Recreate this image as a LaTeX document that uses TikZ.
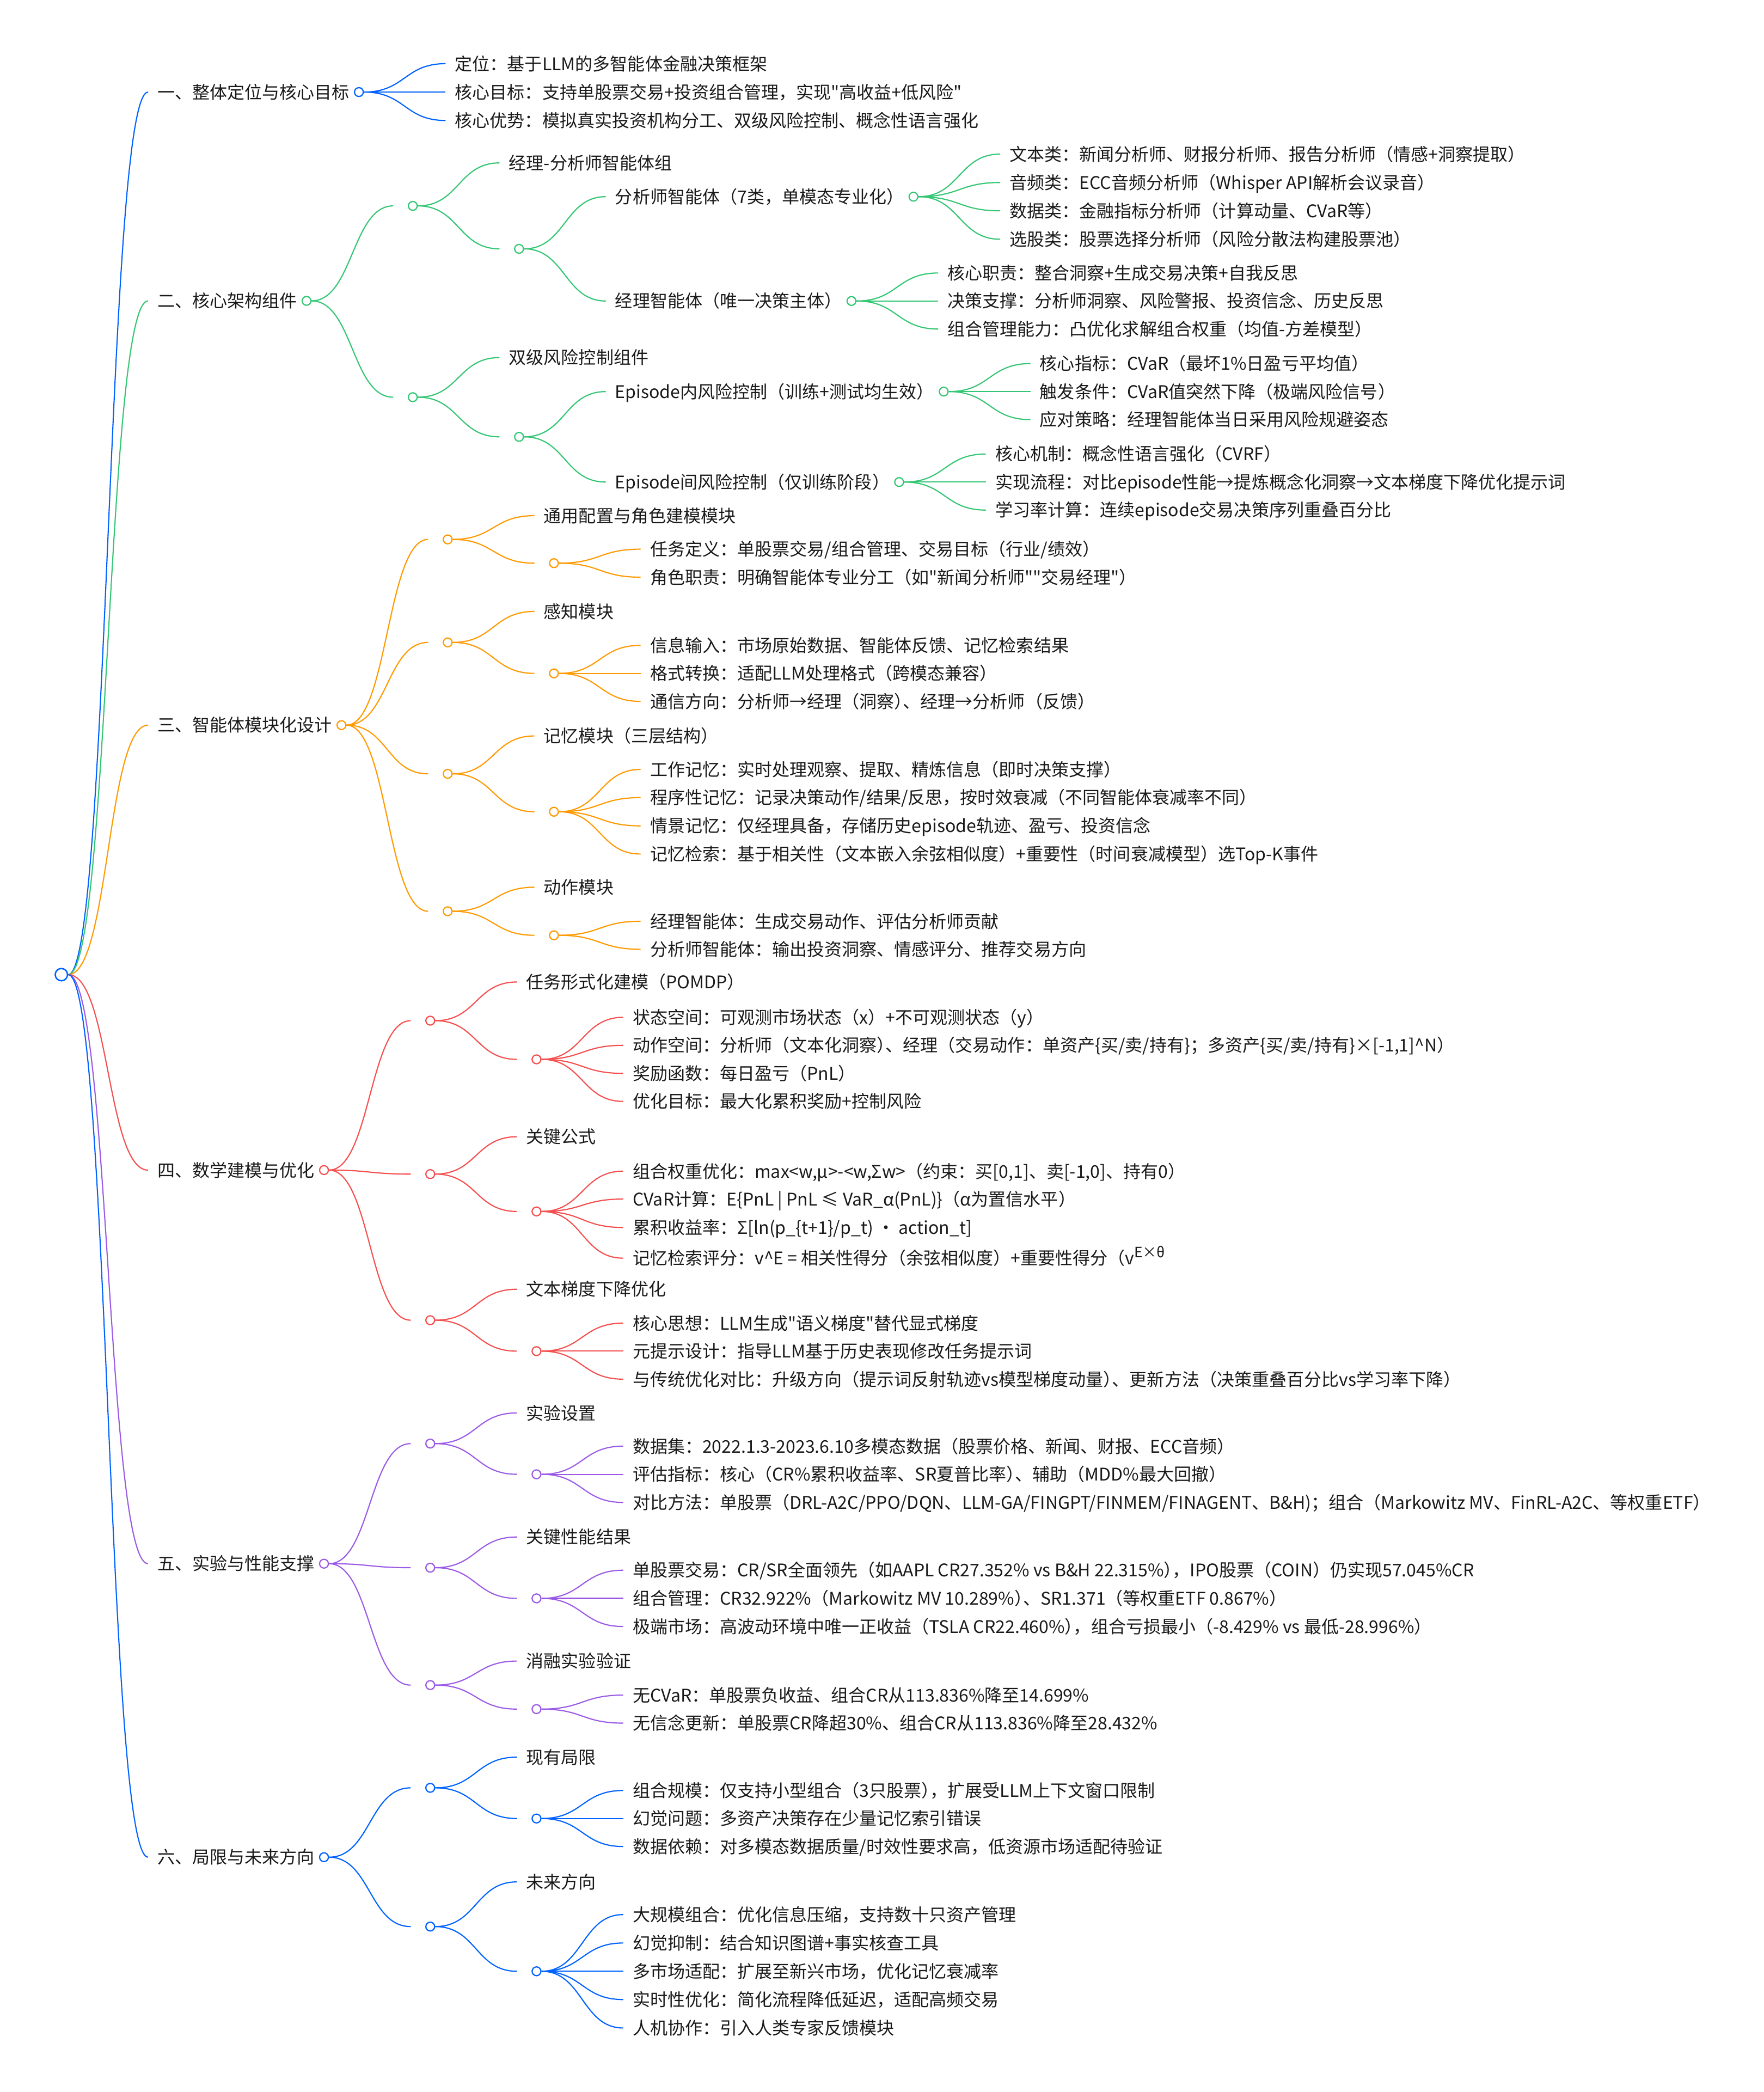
\documentclass[tikz,border=0pt]{standalone}
\usepackage{fontspec}
\setmainfont{Noto Sans CJK SC}[Ligatures=TeXOff]
\usepackage{xcolor}
\usetikzlibrary{calc}

\definecolor{cblue}{HTML}{0062FF}
\definecolor{cgreen}{HTML}{33C673}
\definecolor{corange}{HTML}{FF9900}
\definecolor{cred}{HTML}{F54E4E}
\definecolor{cpurple}{HTML}{9B5AE6}
\definecolor{ink}{HTML}{1A1A1A}
\newcommand{\tightp}{\kern-.5em}

\begin{document}
\begin{tikzpicture}[x=0.025cm, y=0.025cm,
  topic/.style={anchor=west, inner xsep=1.7mm, inner ysep=0pt, text height=7.25pt, text depth=0.2pt, text=ink, font=\fontsize{9.3pt}{11pt}\selectfont},
  hub/.style={topic, inner xsep=1.76mm},
  dot/.style={circle, draw, fill=white, inner sep=0pt, minimum size=1.65mm, line width=0.65pt},
  tie/.style={line width=0.62pt, to path={.. controls +(31,0) and +(-31,0) .. (\tikztotarget)}}]
  \path[fill=white, use as bounding box] (0,0) rectangle (1322,-1568);
  \node[dot, minimum size=2.3mm, line width=0.75pt, draw=cblue] (root) at (46,-730.5) {};

  \begin{scope}[color=cblue]
    \node[topic] (goal) at ($(root)+(65,661.5)$) {一、整体定位与核心目标};
    \node[dot] (goalo) at (goal.east) {};
    \draw[tie] (root.east) to (goal.west);
    \foreach \dy/\txt [count=\i] in {
      21.3/{定位：基于LLM的多智能体金融决策框架},
      0/{核心目标：支持单股票交易+投资组合管理，实现"高收益+低风险"},
      -21.3/{核心优势：模拟真实投资机构分工、双级风险控制、概念性语言强化}}
      {\node[topic] (goal\i) at ($(goalo)+(65,\dy)$) {\txt};
       \draw[tie] (goalo.east) to (goal\i.west);}
  \end{scope}

  \begin{scope}[color=cgreen]
    \node[topic] (arch) at ($(root)+(65,505)$) {二、核心架构组件};
    \node[dot] (archo) at (arch.east) {};
    \node[hub] (archa) at ($(archo)+(65,71.2)$) {};
    \node[dot] (archao) at (archa.east) {};
    \node[topic] (team) at ($(archao)+(65,32.2)$) {经理-分析师智能体组};
    \node[hub] (archab) at ($(archao)+(65,-32.2)$) {};
    \node[dot] (archabo) at (archab.east) {};
    \node[topic] (analyst) at ($(archabo)+(65,39.1)$) {分析师智能体（7类，单模态专业化）};
    \node[dot] (analysto) at (analyst.east) {};
    \node[topic] (manager) at ($(archabo)+(65,-39.1)$) {经理智能体（唯一决策主体）};
    \node[dot] (managero) at (manager.east) {};
    \node[hub] (archb) at ($(archo)+(65,-72.2)$) {};
    \node[dot] (archbo) at (archb.east) {};
    \node[topic] (risk) at ($(archbo)+(65,29.7)$) {双级风险控制组件};
    \node[hub] (archbb) at ($(archbo)+(65,-29.7)$) {};
    \node[dot] (archbbo) at (archbb.east) {};
    \node[topic] (inrisk) at ($(archbbo)+(65,33.9)$) {Episode内风险控制（训练+测试均生效）};
    \node[dot] (inrisko) at (inrisk.east) {};
    \node[topic] (xrisk) at ($(archbbo)+(65,-33.9)$) {Episode间风险控制（仅训练阶段）};
    \node[dot] (xrisko) at (xrisk.east) {};
    \draw[tie] (root.east) to (arch.west);
    \draw[tie] (archo.east) to (archa.west);
    \draw[tie] (archo.east) to (archb.west);
    \draw[tie] (archao.east) to (team.west);
    \draw[tie] (archao.east) to (archab.west);
    \draw[tie] (archabo.east) to (analyst.west);
    \draw[tie] (archabo.east) to (manager.west);
    \draw[tie] (archbo.east) to (risk.west);
    \draw[tie] (archbo.east) to (archbb.west);
    \draw[tie] (archbbo.east) to (inrisk.west);
    \draw[tie] (archbbo.east) to (xrisk.west);
    \foreach \dy/\txt [count=\i] in {
      31.9/{文本类：新闻分析师、财报分析师、报告分析师（情感+洞察提取）},
      10.6/{音频类：ECC音频分析师（Whisper API解析会议录音）},
      -10.6/{数据类：金融指标分析师（计算动量、CVaR等）},
      -31.9/{选股类：股票选择分析师（风险分散法构建股票池）}}
      {\node[topic] (analyst\i) at ($(analysto)+(65,\dy)$) {\txt};
       \draw[tie] (analysto.east) to (analyst\i.west);}
    \foreach \dy/\txt [count=\i] in {
      21/{核心职责：整合洞察+生成交易决策+自我反思},
      0/{决策支撑：分析师洞察、风险警报、投资信念、历史反思},
      -21/{组合管理能力：凸优化求解组合权重（均值-方差模型）}}
      {\node[topic] (manager\i) at ($(managero)+(65,\dy)$) {\txt};
       \draw[tie] (managero.east) to (manager\i.west);}
    \foreach \dy/\txt [count=\i] in {
      21/{核心指标：CVaR（最坏1\%日盈亏平均值）},
      0/{触发条件：CVaR值突然下降（极端风险信号）},
      -21/{应对策略：经理智能体当日采用风险规避姿态}}
      {\node[topic] (inrisk\i) at ($(inrisko)+(65,\dy)$) {\txt};
       \draw[tie] (inrisko.east) to (inrisk\i.west);}
    \foreach \dy/\txt [count=\i] in {
      21/{核心机制：概念性语言强化（CVRF）},
      0/{实现流程：对比episode性能→提炼概念化洞察→文本梯度下降优化提示词},
      -21/{学习率计算：连续episode交易决策序列重叠百分比}}
      {\node[topic] (xrisk\i) at ($(xrisko)+(65,\dy)$) {\txt};
       \draw[tie] (xrisko.east) to (xrisk\i.west);}
  \end{scope}

  \begin{scope}[color=corange]
    \node[topic] (modu) at ($(root)+(65,187)$) {三、智能体模块化设计};
    \node[dot] (moduo) at (modu.east) {};
    \draw[tie] (root.east) to (modu.west);
    \node[hub] (cfg) at ($(moduo)+(65,139.2)$) {};
    \node[dot] (cfgo) at (cfg.east) {};
    \node[topic] (cfgl) at ($(cfgo)+(65,17.8)$) {通用配置与角色建模模块};
    \node[hub] (cfgs) at ($(cfgo)+(65,-17.8)$) {};
    \node[dot] (cfgso) at (cfgs.east) {};
    \node[hub] (per) at ($(moduo)+(65,62)$) {};
    \node[dot] (pero) at (per.east) {};
    \node[topic] (perl) at ($(pero)+(65,23.2)$) {感知模块};
    \node[hub] (pers) at ($(pero)+(65,-23.2)$) {};
    \node[dot] (perso) at (pers.east) {};
    \node[hub] (mem) at ($(moduo)+(65,-36.5)$) {};
    \node[dot] (memo) at (mem.east) {};
    \node[topic] (meml) at ($(memo)+(65,28.4)$) {记忆模块（三层结构）};
    \node[hub] (mems) at ($(memo)+(65,-28.4)$) {};
    \node[dot] (memso) at (mems.east) {};
    \node[hub] (act) at ($(moduo)+(65,-139.5)$) {};
    \node[dot] (acto) at (act.east) {};
    \node[topic] (actl) at ($(acto)+(65,18)$) {动作模块};
    \node[hub] (acts) at ($(acto)+(65,-18)$) {};
    \node[dot] (actso) at (acts.east) {};
    \foreach \n in {cfg,per,mem,act}
      {\draw[tie] (moduo.east) to (\n.west);
       \draw[tie] (\n o.east) to (\n l.west);
       \draw[tie] (\n o.east) to (\n s.west);}
    \foreach \dy/\txt [count=\i] in {
      10.5/{任务定义：单股票交易/组合管理、交易目标（行业/绩效）},
      -10.5/{角色职责：明确智能体专业分工（如"新闻分析师""交易经理"）}}
      {\node[topic] (cfg\i) at ($(cfgso)+(65,\dy)$) {\txt};
       \draw[tie] (cfgso.east) to (cfg\i.west);}
    \foreach \dy/\txt [count=\i] in {
      21/{信息输入：市场原始数据、智能体反馈、记忆检索结果},
      0/{格式转换：适配LLM处理格式（跨模态兼容）},
      -21/{通信方向：分析师→经理（洞察）\tightp、经理→分析师（反馈）}}
      {\node[topic] (per\i) at ($(perso)+(65,\dy)$) {\txt};
       \draw[tie] (perso.east) to (per\i.west);}
    \foreach \dy/\txt [count=\i] in {
      31.7/{工作记忆：实时处理观察、提取、精炼信息（即时决策支撑）},
      10.6/{程序性记忆：记录决策动作/结果/反思，按时效衰减（不同智能体衰减率不同）},
      -10.6/{情景记忆：仅经理具备，存储历史episode轨迹、盈亏、投资信念},
      -31.7/{记忆检索：基于相关性（文本嵌入余弦相似度）+重要性（时间衰减模型）选Top-K事件}}
      {\node[topic] (mem\i) at ($(memso)+(65,\dy)$) {\txt};
       \draw[tie] (memso.east) to (mem\i.west);}
    \foreach \dy/\txt [count=\i] in {
      10.5/{经理智能体：生成交易动作、评估分析师贡献},
      -10.5/{分析师智能体：输出投资洞察、情感评分、推荐交易方向}}
      {\node[topic] (act\i) at ($(actso)+(65,\dy)$) {\txt};
       \draw[tie] (actso.east) to (act\i.west);}
  \end{scope}

  \begin{scope}[color=cred]
    \node[topic] (math) at ($(root)+(65,-146.5)$) {四、数学建模与优化};
    \node[dot] (matho) at (math.east) {};
    \draw[tie] (root.east) to (math.west);
    \node[hub] (pomdp) at ($(matho)+(65,112)$) {};
    \node[dot] (pomdpo) at (pomdp.east) {};
    \node[topic] (pomdpl) at ($(pomdpo)+(65,29)$) {任务形式化建模（POMDP）};
    \node[hub] (pomdps) at ($(pomdpo)+(65,-29)$) {};
    \node[dot] (pomdpso) at (pomdps.east) {};
    \node[hub] (eqn) at ($(matho)+(65,-3)$) {};
    \node[dot] (eqno) at (eqn.east) {};
    \node[topic] (eqnl) at ($(eqno)+(65,28)$) {关键公式};
    \node[hub] (eqns) at ($(eqno)+(65,-28)$) {};
    \node[dot] (eqnso) at (eqns.east) {};
    \node[hub] (tgd) at ($(matho)+(65,-112.5)$) {};
    \node[dot] (tgdo) at (tgd.east) {};
    \node[topic] (tgdl) at ($(tgdo)+(65,23.2)$) {文本梯度下降优化};
    \node[hub] (tgds) at ($(tgdo)+(65,-23.2)$) {};
    \node[dot] (tgdso) at (tgds.east) {};
    \foreach \n in {pomdp,eqn,tgd}
      {\draw[tie] (matho.east) to (\n.west);
       \draw[tie] (\n o.east) to (\n l.west);
       \draw[tie] (\n o.east) to (\n s.west);}
    \foreach \dy/\txt [count=\i] in {
      31.5/{状态空间：可观测市场状态（x）+不可观测状态（y）},
      10.5/{动作空间：分析师（文本化洞察）\tightp、经理（交易动作：单资产\{买/卖/持有\}；多资产\{买/卖/持有\}×[-1,1]\textasciicircum N）},
      -10.5/{奖励函数：每日盈亏（PnL）},
      -31.5/{优化目标：最大化累积奖励+控制风险}}
      {\node[topic] (pomdp\i) at ($(pomdpso)+(65,\dy)$) {\txt};
       \draw[tie] (pomdpso.east) to (pomdp\i.west);}
    \foreach \dy/\txt [count=\i] in {
      30.2/{组合权重优化：max<w,μ>-<w,Σw>（约束：买[0,1]、卖[-1,0]、持有0）},
      9.3/{CVaR计算：E\{PnL | PnL ≤ VaR\_α(PnL)\}（α为置信水平）},
      -12/{累积收益率：Σ[ln(p\_\{t+1\}/p\_t) • action\_t]},
      -35/{记忆检索评分：v\textasciicircum E = 相关性得分（余弦相似度）+重要性得分（v\raisebox{0.42em}{\fontsize{7.6pt}{8pt}\selectfont E×θ}}}
      {\node[topic] (eqn\i) at ($(eqnso)+(65,\dy)$) {\txt};
       \draw[tie] (eqnso.east) to (eqn\i.west);}
    \foreach \dy/\txt [count=\i] in {
      21/{核心思想：LLM生成"语义梯度"替代显式梯度},
      0/{元提示设计：指导LLM基于历史表现修改任务提示词},
      -21/{与传统优化对比：升级方向（提示词反射轨迹vs模型梯度动量）\tightp、更新方法（决策重叠百分比vs学习率下降）}}
      {\node[topic] (tgd\i) at ($(tgdso)+(65,\dy)$) {\txt};
       \draw[tie] (tgdso.east) to (tgd\i.west);}
  \end{scope}

  \begin{scope}[color=cpurple]
    \node[topic] (expt) at ($(root)+(65,-441.5)$) {五、实验与性能支撑};
    \node[dot] (expto) at (expt.east) {};
    \draw[tie] (root.east) to (expt.west);
    \node[hub] (setup) at ($(expto)+(65,90)$) {};
    \node[dot] (setupo) at (setup.east) {};
    \node[topic] (setupl) at ($(setupo)+(65,23)$) {实验设置};
    \node[hub] (setups) at ($(setupo)+(65,-23)$) {};
    \node[dot] (setupso) at (setups.east) {};
    \node[hub] (gain) at ($(expto)+(65,-3)$) {};
    \node[dot] (gaino) at (gain.east) {};
    \node[topic] (gainl) at ($(gaino)+(65,23)$) {关键性能结果};
    \node[hub] (gains) at ($(gaino)+(65,-23)$) {};
    \node[dot] (gainso) at (gains.east) {};
    \node[hub] (abl) at ($(expto)+(65,-91)$) {};
    \node[dot] (ablo) at (abl.east) {};
    \node[topic] (abll) at ($(ablo)+(65,18)$) {消融实验验证};
    \node[hub] (abls) at ($(ablo)+(65,-18)$) {};
    \node[dot] (ablso) at (abls.east) {};
    \foreach \n in {setup,gain,abl}
      {\draw[tie] (expto.east) to (\n.west);
       \draw[tie] (\n o.east) to (\n l.west);
       \draw[tie] (\n o.east) to (\n s.west);}
    \foreach \dy/\txt [count=\i] in {
      21.1/{数据集：2022.1.3-2023.6.10多模态数据（股票价格、新闻、财报、ECC音频）},
      0/{评估指标：核心（CR\%累积收益率、SR夏普比率）\tightp、辅助（MDD\%最大回撤）},
      -21.1/{对比方法：单股票（DRL-A2C/PPO/DQN、LLM-GA/FINGPT/FINMEM/FINAGENT、B\&H)；组合（Markowitz MV、FinRL-A2C、等权重ETF）}}
      {\node[topic] (setup\i) at ($(setupso)+(65,\dy)$) {\txt};
       \draw[tie] (setupso.east) to (setup\i.west);}
    \foreach \dy/\txt [count=\i] in {
      21.1/{单股票交易：CR/SR全面领先（如AAPL CR27.352\% vs B\&H 22.315\%）\tightp，IPO股票（COIN）仍实现57.045\%CR},
      0/{组合管理：CR32.922\%（Markowitz MV 10.289\%）\tightp、SR1.371（等权重ETF 0.867\%）},
      -21.1/{极端市场：高波动环境中唯一正收益（TSLA CR22.460\%）\tightp，组合亏损最小（-8.429\% vs 最低-28.996\%）}}
      {\node[topic] (gain\i) at ($(gainso)+(65,\dy)$) {\txt};
       \draw[tie] (gainso.east) to (gain\i.west);}
    \foreach \dy/\txt [count=\i] in {
      10.5/{无CVaR：单股票负收益、组合CR从113.836\%降至14.699\%},
      -10.5/{无信念更新：单股票CR降超30\%、组合CR从113.836\%降至28.432\%}}
      {\node[topic] (abl\i) at ($(ablso)+(65,\dy)$) {\txt};
       \draw[tie] (ablso.east) to (abl\i.west);}
  \end{scope}

  \begin{scope}[color=cblue]
    \node[topic] (limt) at ($(root)+(65,-661.5)$) {六、局限与未来方向};
    \node[dot] (limto) at (limt.east) {};
    \draw[tie] (root.east) to (limt.west);
    \node[hub] (now) at ($(limto)+(65,52)$) {};
    \node[dot] (nowo) at (now.east) {};
    \node[topic] (nowl) at ($(nowo)+(65,23)$) {现有局限};
    \node[hub] (nows) at ($(nowo)+(65,-23)$) {};
    \node[dot] (nowso) at (nows.east) {};
    \node[hub] (next) at ($(limto)+(65,-52)$) {};
    \node[dot] (nexto) at (next.east) {};
    \node[topic] (nextl) at ($(nexto)+(65,33.5)$) {未来方向};
    \node[hub] (nexts) at ($(nexto)+(65,-33.5)$) {};
    \node[dot] (nextso) at (nexts.east) {};
    \foreach \n in {now,next}
      {\draw[tie] (limto.east) to (\n.west);
       \draw[tie] (\n o.east) to (\n l.west);
       \draw[tie] (\n o.east) to (\n s.west);}
    \foreach \dy/\txt [count=\i] in {
      21/{组合规模：仅支持小型组合（3只股票）\tightp，扩展受LLM上下文窗口限制},
      0/{幻觉问题：多资产决策存在少量记忆索引错误},
      -21/{数据依赖：对多模态数据质量/时效性要求高，低资源市场适配待验证}}
      {\node[topic] (now\i) at ($(nowso)+(65,\dy)$) {\txt};
       \draw[tie] (nowso.east) to (now\i.west);}
    \foreach \dy/\txt [count=\i] in {
      42.5/{大规模组合：优化信息压缩，支持数十只资产管理},
      21.2/{幻觉抑制：结合知识图谱+事实核查工具},
      0/{多市场适配：扩展至新兴市场，优化记忆衰减率},
      -21.2/{实时性优化：简化流程降低延迟，适配高频交易},
      -42.5/{人机协作：引入人类专家反馈模块}}
      {\node[topic] (next\i) at ($(nextso)+(65,\dy)$) {\txt};
       \draw[tie] (nextso.east) to (next\i.west);}
  \end{scope}
\end{tikzpicture}
\end{document}
